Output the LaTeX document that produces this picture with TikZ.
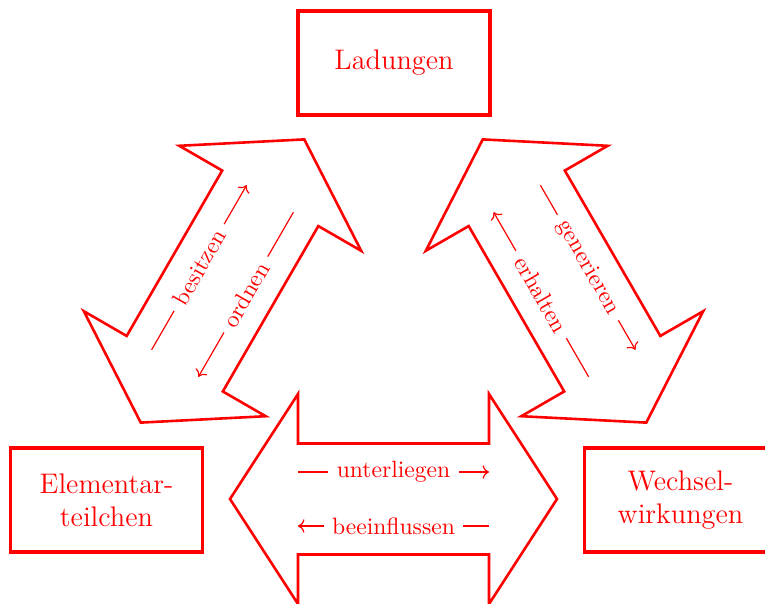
\documentclass[tikz,border=0pt]{standalone}
\usetikzlibrary{arrows.meta}
\tikzset{
  box/.style={draw=red, line width=1.4pt, text=red, font=\large, minimum width=81.35pt, minimum height=44.06pt, align=center, inner sep=0pt},
  bigarrow/.style={draw=red, line width=1.1pt, fill=white, line join=miter},
  lbl/.style={draw=red, line width=0.5pt},
  lbltext/.style={fill=white, text=red, inner sep=3.5pt, sloped}
}
\newcommand\dblarrowshape{%
  \draw[bigarrow] (-163.5,0) -- (-95.5,105) -- (-95.5,55.5) -- (95.5,55.5) -- (95.5,105) -- (163.5,0) -- (95.5,-105) -- (95.5,-55.5) -- (-95.5,-55.5) -- (-95.5,-105) -- cycle;}
\begin{document}
\begin{tikzpicture}[x=0.4237pt, y=0.4237pt]
\useasboundingbox (0,0) rectangle (765,-603);
\clip (0,0) rectangle (765,-603);
% left double arrow
\begin{scope}[shift={(222.5,-281)}, rotate=60]
  \dblarrowshape
  \coordinate (l1a) at (-95,27); \coordinate (l1b) at (95,27);
  \coordinate (l2a) at (-95,-27); \coordinate (l2b) at (95,-27);
\end{scope}
% right double arrow
\begin{scope}[shift={(564.5,-281)}, rotate=-60]
  \dblarrowshape
  \coordinate (r1a) at (-95,27); \coordinate (r1b) at (95,27);
  \coordinate (r2a) at (-95,-27); \coordinate (r2b) at (95,-27);
\end{scope}
% bottom double arrow
\begin{scope}[shift={(393.5,-499)}]
  \dblarrowshape
  \coordinate (b1a) at (-95.5,27); \coordinate (b1b) at (95.5,27);
  \coordinate (b2a) at (-95.5,-27); \coordinate (b2b) at (95.5,-27);
\end{scope}
\draw[lbl,->] (l1a) -- node[lbltext]{besitzen} (l1b);
\draw[lbl,<-] (l2a) -- node[lbltext]{ordnen} (l2b);
\draw[lbl,->] (r1a) -- node[lbltext]{generieren} (r1b);
\draw[lbl,<-] (r2a) -- node[lbltext]{erhalten} (r2b);
\draw[lbl,->] (b1a) -- node[lbltext]{unterliegen} (b1b);
\draw[lbl,<-] (b2a) -- node[lbltext]{beeinflussen} (b2b);
% boxes
\node[box] (lad) at (394,-63) {Ladungen};
\node[box] (ele) at (106.5,-500) {Elementar-\\teilchen};
\node[box] (wec) at (680.5,-500) {Wechsel-\\wirkungen};
\end{tikzpicture}
\end{document}
